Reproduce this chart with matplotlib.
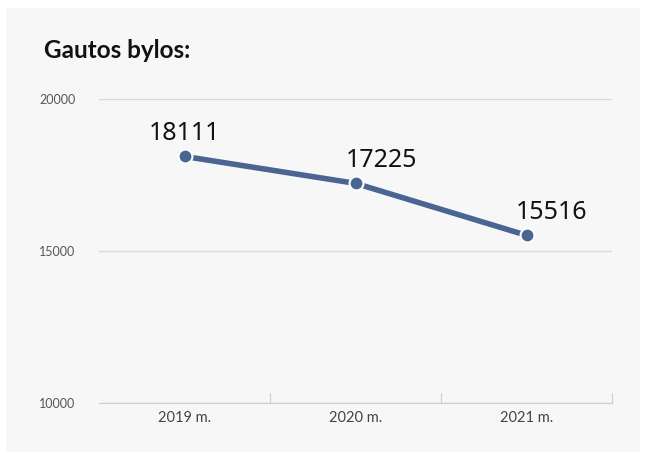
import matplotlib.pyplot as plt
from matplotlib.patches import Rectangle

years = ["2019 m.", "2020 m.", "2021 m."]
cases = [18111, 17225, 15516]
y_ticks = [10000, 15000, 20000]

line_color = "#4a6591"

fig = plt.figure(figsize=(6.46, 4.55), dpi=100)
fig.patch.set_facecolor("white")
fig.patches.append(Rectangle((6 / 646, 3 / 455), 634 / 646, 444 / 455,
                             transform=fig.transFigure, facecolor="#f7f7f7",
                             edgecolor="none", zorder=-10))

ax = fig.add_axes([99 / 646, 52 / 455, 513 / 646, 304 / 455])
ax.set_facecolor("none")

x = [i + 0.5 for i in range(len(years))]
ax.plot(x, cases, color=line_color, linewidth=4, marker="o", markersize=10,
        markerfacecolor=line_color, markeredgecolor="white", markeredgewidth=1.5,
        solid_capstyle="round", zorder=3)

offsets = [(0, 12), (19, 12), (18, 12)]
for xi, v, off in zip(x, cases, offsets):
    ax.annotate(str(v), (xi, v), xytext=off, textcoords="offset points",
                ha="center", va="baseline", fontsize=18, color="#111111",
                family=["Noto Sans", "DejaVu Sans"])

ax.set_xlim(0, len(years))
ax.set_ylim(10000, 20000)
ax.set_yticks(y_ticks)
ax.set_yticklabels([str(t) for t in y_ticks], fontsize=9, color="#555555",
                   family=["Lato", "DejaVu Sans"])
ax.tick_params(axis="y", length=0, pad=17)

ax.set_xticks([1, 2, 3])
ax.set_xticks(x, minor=True)
ax.set_xticklabels([])
ax.set_xticklabels(years, minor=True, fontsize=10.5, color="#444444",
                   family=["Lato", "DejaVu Sans"])
ax.tick_params(axis="x", which="major", direction="in", length=7, color="#cccccc")
ax.tick_params(axis="x", which="minor", length=0, pad=6)

ax.grid(axis="y", color="#d9d9d9", linewidth=1)
for side in ["top", "right", "left"]:
    ax.spines[side].set_visible(False)
ax.spines["bottom"].set_color("#cccccc")

fig.text(44 / 646, 1 - 51 / 455, "Gautos bylos:", fontsize=17.5, fontweight="bold",
         va="center", ha="left", color="#111111", family=["Lato", "DejaVu Sans"])

fig.savefig("out.png", dpi=100)
